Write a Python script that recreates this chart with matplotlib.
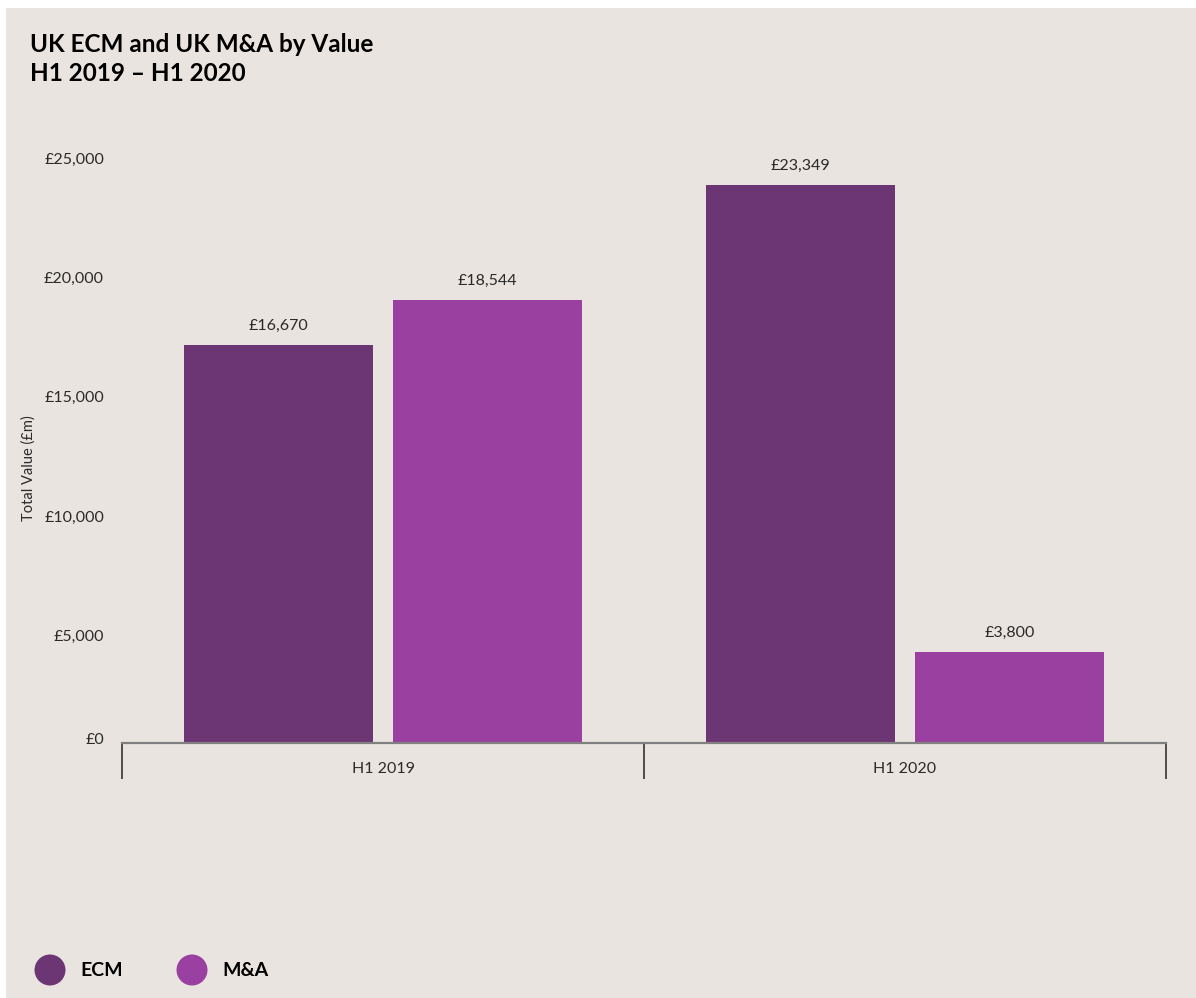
import matplotlib
import numpy as np

matplotlib.use("Agg")
import matplotlib.pyplot as plt  # noqa: E402
from matplotlib.patches import Ellipse, Rectangle  # noqa: E402
from matplotlib.transforms import ScaledTranslation  # noqa: E402

plt.rcParams["font.family"] = ["Lato", "DejaVu Sans"]

# Half-year periods and deal values (GBP millions)
periods = ["H1 2019", "H1 2020"]
series_names = ["ECM", "M&A"]
ecm_values = [16670, 23349]
ma_values = [18544, 3800]
y_ticks = [0, 5000, 10000, 15000, 20000, 25000]

ECM_COLOUR = "#6C3573"
MA_COLOUR = "#9A40A0"
BACKGROUND = "#E9E4E0"
TEXT = "#2A2A2A"

fig = plt.figure(figsize=(11.96, 9.98), dpi=100)
fig.patch.set_facecolor("white")
W, H = 1196, 998
fig.patches.append(Rectangle((6 / W, 0), 1 - 6 / W, 1 - 8 / H,
                             transform=fig.transFigure, facecolor=BACKGROUND,
                             edgecolor="none", zorder=-10))

ax = fig.add_axes([122 / W, (H - 743) / H, (1166 - 122) / W, (743 - 146) / H])
ax.set_facecolor("none")

x = np.arange(len(periods))
width = 0.362
offset = 0.2
bars_ecm = ax.bar(x - offset, ecm_values, width, color=ECM_COLOUR, zorder=2)
bars_ma = ax.bar(x + offset, ma_values, width, color=MA_COLOUR, zorder=2)

for bars, vals in ((bars_ecm, ecm_values), (bars_ma, ma_values)):
    for b, v in zip(bars, vals):
        ax.annotate(f"£{v:,}", (b.get_x() + b.get_width() / 2, v),
                    xytext=(0, 9), textcoords="offset points",
                    ha="center", va="bottom", fontsize=11.5, color=TEXT)

ax.set_xlim(-0.5, len(periods) - 0.5)
ax.set_ylim(0, 25000)

for side in ("left", "right", "top"):
    ax.spines[side].set_visible(False)
ax.spines["bottom"].set_color("#808080")
ax.spines["bottom"].set_linewidth(1.6)

# category boundaries as long ticks, labels centred in each band
ax.set_xticks(np.arange(len(periods) + 1) - 0.5)
ax.set_xticklabels([])
ax.tick_params(axis="x", length=26, width=1.2, color="#333333")
ax.set_xticks(x, minor=True)
ax.set_xticklabels(periods, minor=True)
ax.tick_params(axis="x", which="minor", length=0, pad=14,
               labelsize=11.5, labelcolor=TEXT)

ax.set_yticks(y_ticks)
ax.set_yticklabels([f"£{t:,}" for t in y_ticks])
ax.tick_params(axis="y", length=0, pad=13, labelsize=11.5, labelcolor=TEXT)
# labels sit just below their gridline value
for t, lbl in zip(y_ticks, ax.get_yticklabels()):
    dy = 3 / 72 if t == 0 else -12 / 100
    lbl.set_transform(lbl.get_transform() + ScaledTranslation(0, dy, fig.dpi_scale_trans))

fig.text(29 / W, 1 - 468 / H, "Total Value (£m)", rotation=90,
         ha="center", va="center", fontsize=10.5, color=TEXT)

fig.text(30 / W, 1 - 33 / H, "UK ECM and UK M&A by Value\nH1 2019 – H1 2020",
         ha="left", va="top", fontsize=17.5, fontweight="bold",
         color="black", linespacing=1.3)

# legend drawn as filled circles with bold labels
for cx, name, col in ((50, series_names[0], ECM_COLOUR), (192, series_names[1], MA_COLOUR)):
    fig.patches.append(Ellipse((cx / W, 1 - 970 / H), 31 / W, 31 / H,
                               transform=fig.transFigure, facecolor=col,
                               edgecolor="none"))
    fig.text((cx + 30) / W, 1 - 970 / H, name, ha="left", va="center",
             fontsize=14, fontweight="bold", color="black")

fig.savefig("out.png", dpi=100, facecolor=fig.get_facecolor())
